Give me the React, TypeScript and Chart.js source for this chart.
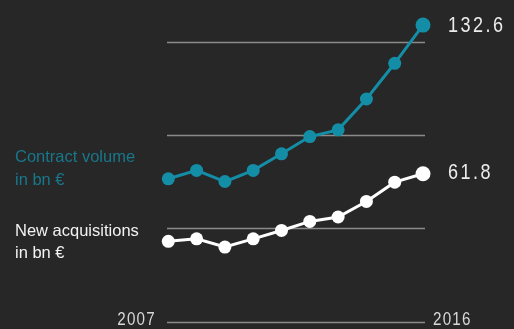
import React, { useEffect, useRef } from "react";
import { Chart, registerables } from "chart.js";
Chart.register(...registerables);

const years = [2007, 2008, 2009, 2010, 2011, 2012, 2013, 2014, 2015, 2016];
const contractVolume = [59.4, 63.4, 58.1, 63.4, 71.3, 79.5, 82.7, 97.4, 114.4, 132.6];
const newAcquisitions = [29.6, 30.8, 26.9, 30.8, 34.8, 39.1, 41.2, 48.6, 57.8, 61.8];
const gridValues = [-8.56, 35.88, 80.32, 124.76];
const seriesLabels = [["Contract volume", "in bn €"], ["New acquisitions", "in bn €"]];
const endLabels = ["132.6", "61.8"];
const yearLabels = ["2007", "2016"];

const BG = "#272727";
const TEAL = "#148ea6";
const TEAL_TEXT = "#18778b";

function condensedText(ctx: any, text: string, x: number, y: number, sx: number, spacing: string) {
  ctx.save();
  ctx.translate(x, y);
  ctx.scale(sx, 1);
  ctx.letterSpacing = spacing;
  ctx.textAlign = "left";
  ctx.textBaseline = "alphabetic";
  ctx.fillText(text, 0, 0);
  ctx.restore();
}

export default function App() {
  const ref = useRef<HTMLCanvasElement>(null);
  useEffect(() => {
    document.body.style.margin = "0";
    const canvas = ref.current!;
    const overlay = {
      id: "overlay",
      beforeDatasetsDraw(chart: any) {
        const { ctx, scales } = chart;
        const x0 = scales.x.getPixelForValue(scales.x.min);
        const x1 = scales.x.getPixelForValue(scales.x.max);
        ctx.save();
        ctx.strokeStyle = "#8a8a8a";
        ctx.lineWidth = 1.5;
        gridValues.forEach((v) => {
          const y = Math.round(scales.y.getPixelForValue(v)) + 0.5;
          ctx.beginPath();
          ctx.moveTo(x0, y);
          ctx.lineTo(x1, y);
          ctx.stroke();
        });
        ctx.restore();
      },
      afterDraw(chart: any) {
        const { ctx, scales } = chart;
        ctx.save();
        ctx.textBaseline = "alphabetic";
        ctx.textAlign = "left";
        ctx.font = "16.5px 'Liberation Sans', Arial, sans-serif";
        ctx.fillStyle = TEAL_TEXT;
        ctx.fillText(seriesLabels[0][0], 15, 162);
        ctx.fillText(seriesLabels[0][1], 15, 185);
        ctx.fillStyle = "#f2f2f2";
        ctx.fillText(seriesLabels[1][0], 15, 236);
        ctx.fillText(seriesLabels[1][1], 15, 258);
        const lastX = scales.x.getPixelForValue(years[years.length - 1]);
        ctx.font = "22px 'Liberation Sans', sans-serif";
        ctx.fillStyle = "#ececec";
        condensedText(ctx, endLabels[0], lastX + 25, 32, 0.82, "3px");
        condensedText(ctx, endLabels[1], lastX + 25, 178.5, 0.82, "3px");
        ctx.font = "19px 'Liberation Sans', sans-serif";
        ctx.fillStyle = "#d8d8d8";
        condensedText(ctx, yearLabels[0], scales.x.getPixelForValue(years[0]) - 51, 325, 0.8, "1.5px");
        condensedText(ctx, yearLabels[1], lastX + 10, 325, 0.8, "1.5px");
        ctx.restore();
      },
    };
    const radii = [6.5, 6.5, 6.5, 6.5, 6.5, 6.5, 6.5, 6.5, 6.5, 7.5];
    const chart = new Chart(canvas, {
      type: "line",
      data: {
        datasets: [
          {
            data: years.map((y, i) => ({ x: y, y: contractVolume[i] })),
            borderColor: TEAL,
            backgroundColor: TEAL,
            borderWidth: 3,
            pointRadius: radii,
            pointBorderWidth: 0,
            clip: false as any,
          },
          {
            data: years.map((y, i) => ({ x: y, y: newAcquisitions[i] })),
            borderColor: "#ffffff",
            backgroundColor: "#ffffff",
            borderWidth: 3,
            pointRadius: radii,
            pointBorderWidth: 0,
            clip: false as any,
          },
        ],
      },
      options: {
        animation: false,
        responsive: false,
        maintainAspectRatio: false,
        layout: { padding: { left: 167, right: 89, top: 15, bottom: 7 } },
        plugins: { legend: { display: false }, tooltip: { enabled: false } },
        scales: {
          x: { type: "linear", display: false, min: 2006.954, max: 2016.07 },
          y: { type: "linear", display: false, min: -8.56, max: 137.4 },
        },
      },
      plugins: [overlay],
    });
    return () => chart.destroy();
  }, []);
  return (
    <div style={{ position: "fixed", left: 0, top: 0, width: 514, height: 329, background: BG }}>
      <canvas ref={ref} width={514} height={329} style={{ display: "block" }} />
    </div>
  );
}
